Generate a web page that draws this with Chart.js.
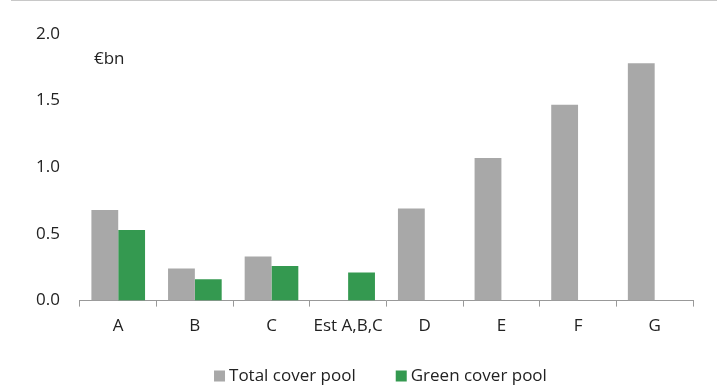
<!DOCTYPE html>
<html>
<head>
<meta charset="utf-8">
<script src="https://cdn.jsdelivr.net/npm/chart.js@4/dist/chart.umd.min.js"></script>
<style>
  html, body { margin: 0; padding: 0; background: #fff; }
  #wrap { width: 717px; height: 387px; position: relative; }
  #rule { position: absolute; left: 11px; right: 0; top: 0; height: 1px; background: #c8c8c8; }
</style>
</head>
<body>
<div id="wrap">
  <canvas id="chart" width="717" height="387"></canvas>
  <div id="rule"></div>
</div>
<script>
const categories = ["A", "B", "C", "Est A,B,C", "D", "E", "F", "G"];
const totalPool = [0.68, 0.24, 0.33, null, 0.69, 1.07, 1.47, 1.78];
const greenPool = [0.53, 0.16, 0.26, 0.21, null, null, null, null];
const yTicks = [0, 0.5, 1.0, 1.5, 2.0];

const FONT = "'Open Sans', sans-serif";
const FONT_SIZE = 17;
const TEXT = "#222222";

// unit label inside the plot, top left
const unitLabel = {
  id: 'unitLabel',
  afterDraw(chart) {
    const ctx = chart.ctx;
    const area = chart.chartArea;
    ctx.save();
    ctx.font = FONT_SIZE + "px " + FONT;
    ctx.fillStyle = TEXT;
    ctx.textBaseline = 'middle';
    ctx.fillText('€bn', area.left + 14, area.top + 25);
    ctx.restore();
  }
};

// legend drawn by hand so the gap between items can be wider than the built-in one
const wideLegend = {
  id: 'wideLegend',
  afterDraw(chart) {
    const ctx = chart.ctx;
    const area = chart.chartArea;
    const box = 11, gap = 4, itemGap = 40;
    const y = 376;
    ctx.save();
    ctx.font = FONT_SIZE + "px " + FONT;
    ctx.textBaseline = 'middle';
    const items = chart.data.datasets.map(ds => ({
      text: ds.label,
      color: ds.backgroundColor,
      w: box + gap + ctx.measureText(ds.label).width
    }));
    const total = items.reduce((s, it) => s + it.w, 0) + itemGap * (items.length - 1);
    let x = (area.left + area.right) / 2 - 6 - total / 2;
    items.forEach(it => {
      ctx.fillStyle = it.color;
      ctx.fillRect(x, y - box / 2, box, box);
      ctx.fillStyle = TEXT;
      ctx.fillText(it.text, x + box + gap, y);
      x += it.w + itemGap;
    });
    ctx.restore();
  }
};

new Chart(document.getElementById('chart'), {
  type: 'bar',
  data: {
    labels: categories,
    datasets: [
      { label: 'Total cover pool', data: totalPool, backgroundColor: '#a8a8a8' },
      { label: 'Green cover pool', data: greenPool, backgroundColor: '#349950' }
    ]
  },
  options: {
    responsive: false,
    animation: false,
    skipNull: false,
    layout: { padding: { top: 34, right: 24, left: 24, bottom: 42 } },
    datasets: { bar: { categoryPercentage: 0.7, barPercentage: 1.0 } },
    plugins: {
      legend: { display: false },
      tooltip: { enabled: false }
    },
    scales: {
      x: {
        grid: { display: true, drawOnChartArea: false, drawTicks: true, tickLength: 6, color: '#999999', offset: true },
        border: { color: '#999999', width: 1 },
        ticks: { font: { family: FONT, size: FONT_SIZE }, color: TEXT, padding: 9 }
      },
      y: {
        min: 0,
        max: 2.0,
        afterBuildTicks(axis) { axis.ticks = yTicks.map(v => ({ value: v })); },
        grid: { display: false },
        border: { display: false },
        ticks: {
          font: { family: FONT, size: FONT_SIZE },
          color: TEXT,
          padding: 12,
          callback: v => v.toFixed(1)
        }
      }
    }
  },
  plugins: [unitLabel, wideLegend]
});
</script>
</body>
</html>
